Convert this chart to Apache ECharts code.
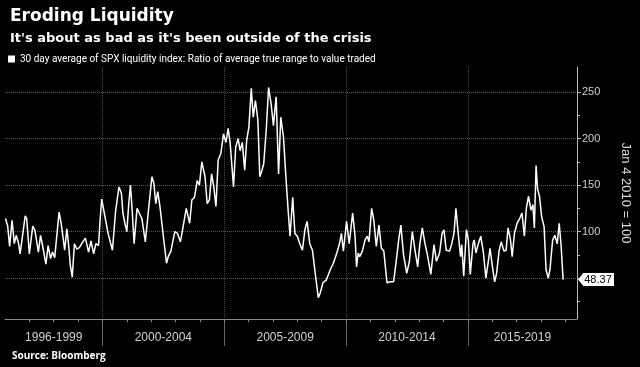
<!DOCTYPE html>
<html><head><meta charset="utf-8">
<script src="https://cdn.jsdelivr.net/npm/echarts@6/dist/echarts.min.js"></script>
<style>html,body{margin:0;padding:0;background:#000}#c{width:640px;height:367px}</style>
</head><body><div id="c"></div>
<script>
const titleText = 'Eroding Liquidity';
const subtitleText = "It's about as bad as it's been outside of the crisis";
const seriesName = '30 day average of SPX liquidity index: Ratio of average true range to value traded';
const sourceText = 'Source: Bloomberg';
const axisName = 'Jan 4 2010 = 100';
const periodLabels = ['1996-1999', '2000-2004', '2005-2009', '2010-2014', '2015-2019'];
const periodCenters = [1998, 2002.5, 2007.5, 2012.5, 2017.24];
const periodBounds = [2000, 2005, 2010, 2015];
const yearTicks = [1997,1998,1999,2000,2001,2002,2003,2004,2005,2006,2007,2008,2009,2010,2011,2012,2013,2014,2015,2016,2017,2018,2019];
const yLabelValues = [50, 100, 150, 200, 250];
const yMinorTicks = [25, 50, 75, 100, 125, 150, 175, 200, 225, 250];
const xMin = 1996, xMax = 2019.48, yMin = 6, yMax = 277;

const dates = [
1996.02,1996.11,1996.19,1996.29,1996.38,1996.46,1996.56,1996.62,1996.83,1996.89,
1997.00,1997.14,1997.23,1997.37,1997.46,1997.57,1997.68,1997.77,1997.87,1997.95,
1998.04,1998.22,1998.31,1998.45,1998.54,1998.62,1998.68,1998.76,1998.85,1998.95,
1999.06,1999.19,1999.30,1999.43,1999.53,1999.64,1999.73,1999.84,1999.91,1999.97,
2000.11,2000.24,2000.41,2000.54,2000.68,2000.78,2000.84,2000.92,2001.00,2001.08,
2001.15,2001.22,2001.30,2001.42,2001.51,2001.62,2001.76,2001.89,2002.03,2002.11,
2002.19,2002.27,2002.36,2002.50,2002.63,2002.70,2002.81,2002.97,2003.08,2003.20,
2003.31,2003.44,2003.58,2003.67,2003.78,2003.89,2003.98,2004.08,2004.21,2004.30,
2004.39,2004.48,2004.57,2004.66,2004.75,2004.86,2004.97,2005.07,2005.16,2005.24,
2005.38,2005.47,2005.57,2005.65,2005.74,2005.84,2005.92,2006.01,2006.11,2006.19,
2006.28,2006.38,2006.46,2006.55,2006.62,2006.73,2006.82,2006.92,2007.02,2007.13,
2007.23,2007.32,2007.43,2007.54,2007.63,2007.70,2007.81,2007.90,2008.00,2008.10,
2008.21,2008.31,2008.40,2008.51,2008.62,2008.75,2008.86,2008.94,2009.05,2009.19,
2009.35,2009.48,2009.62,2009.73,2009.81,2009.89,2010.02,2010.13,2010.27,2010.37,
2010.43,2010.50,2010.56,2010.67,2010.78,2010.87,2010.94,2011.05,2011.14,2011.24,
2011.35,2011.45,2011.55,2011.68,2011.82,2011.95,2012.05,2012.16,2012.25,2012.36,
2012.49,2012.60,2012.72,2012.83,2012.94,2013.03,2013.13,2013.24,2013.34,2013.48,
2013.61,2013.71,2013.84,2013.94,2014.02,2014.11,2014.25,2014.34,2014.43,2014.51,
2014.59,2014.70,2014.75,2014.83,2014.94,2015.02,2015.10,2015.21,2015.26,2015.33,
2015.42,2015.53,2015.64,2015.74,2015.83,2015.91,2016.01,2016.10,2016.18,2016.28,
2016.37,2016.48,2016.57,2016.65,2016.75,2016.82,2016.91,2017.02,2017.13,2017.22,
2017.32,2017.40,2017.49,2017.59,2017.67,2017.73,2017.80,2017.86,2017.94,2018.03,
2018.13,2018.21,2018.30,2018.37,2018.48,2018.57,2018.67,2018.75,2018.83,2018.91
];
const values = [
114,106,84,112,87,96,87,76,117,114,
76,106,101,78,96,81,65,85,71,78,
72,121,108,80,103,83,64,51,87,81,
83,89,93,78,90,76,87,85,115,135,
115,97,80,122,148,141,120,109,100,130,
150,123,87,125,120,114,89,123,159,152,
130,143,127,95,66,73,79,100,98,89,
105,125,109,134,137,155,150,175,159,130,
134,162,148,127,177,184,205,196,211,196,
148,191,200,187,196,166,198,212,254,223,
241,220,159,166,173,212,255,238,214,245,
162,223,202,155,120,95,137,98,95,87,
80,102,111,87,80,52,29,34,45,48,
59,66,77,87,98,79,111,87,120,95,
62,77,73,79,91,95,89,125,112,84,
107,82,79,45,46,46,66,91,107,75,
55,68,100,80,62,87,104,87,75,54,
86,68,77,98,102,80,79,87,98,125,
102,73,86,52,102,91,54,87,91,77,
86,95,77,50,66,82,62,46,55,79,
89,79,80,104,91,73,98,109,114,120,
95,125,138,123,129,104,171,146,138,116,
105,59,50,59,91,96,87,109,84,48.37
];
const lastValue = values[values.length - 1];

const seriesData = dates.map((d, i) => [d, values[i]]);
const condensed = "Roboto, 'Liberation Sans', sans-serif";
const heading = "'DejaVu Sans', sans-serif";

const chart = echarts.init(document.getElementById('c'), null, {renderer: 'canvas'});
chart.setOption({
  backgroundColor: '#000',
  animation: false,
  title: [
    {text: titleText, left: 5, top: 3, textStyle: {color: '#fff', fontSize: 17, fontWeight: 'bold', fontFamily: heading}},
    {text: subtitleText, left: 5, top: 27, textStyle: {color: '#fff', fontSize: 13, fontWeight: 'bold', fontFamily: heading}},
    {text: sourceText, left: 7, top: 346, textStyle: {color: '#fff', fontSize: 10, fontWeight: 'bold', fontFamily: 'Open Sans'}}
  ],
  legend: {
    left: 8, top: 54, padding: 0, icon: 'rect', itemWidth: 7, itemHeight: 7, itemGap: 5,
    textStyle: {color: '#fff', fontSize: 10, fontFamily: condensed},
    data: [seriesName]
  },
  grid: {left: 5, right: 56, top: 67, bottom: 48, containLabel: false},
  xAxis: [{
    type: 'value', min: xMin, max: xMax,
    axisLine: {show: true, lineStyle: {color: '#8a8a8a', width: 1}},
    axisTick: {show: true, customValues: periodBounds, length: 27, lineStyle: {color: '#666'}},
    axisLabel: {
      customValues: periodCenters, color: '#d0d0d0', fontSize: 12, margin: 13, fontFamily: "'Liberation Sans', sans-serif",
      formatter: v => periodLabels[periodCenters.findIndex(c => Math.abs(c - v) < 1e-6)] || ''
    },
    splitLine: {show: true, lineStyle: {color: '#4a4a4a', type: 'dotted'}}
  }, {
    type: 'value', min: xMin, max: xMax, position: 'bottom',
    axisLine: {show: false},
    axisTick: {show: true, customValues: yearTicks, length: 3, lineStyle: {color: '#8a8a8a'}},
    axisLabel: {show: false}, splitLine: {show: false}
  }],
  yAxis: [{
    type: 'value', position: 'right', min: yMin, max: yMax,
    axisLine: {show: true, lineStyle: {color: '#bbb'}},
    axisTick: {show: true, customValues: yLabelValues, length: 4, lineStyle: {color: '#bbb'}},
    axisLabel: {customValues: yLabelValues, color: '#d0d0d0', fontSize: 11, margin: 5, fontFamily: "'Liberation Sans', sans-serif"},
    splitLine: {show: true, lineStyle: {color: '#585858', type: 'dotted'}},
    name: axisName, nameLocation: 'middle', nameRotate: -90, nameGap: 42,
    nameTextStyle: {color: '#ddd', fontSize: 13, fontFamily: "'Liberation Sans', sans-serif"}
  }, {
    type: 'value', position: 'right', min: yMin, max: yMax,
    axisLine: {show: false},
    axisTick: {show: true, customValues: yMinorTicks, length: 3, lineStyle: {color: '#bbb'}},
    axisLabel: {show: false}, splitLine: {show: false}
  }],
  series: [{
    name: seriesName, type: 'line', xAxisIndex: 0, yAxisIndex: 0,
    data: seriesData, showSymbol: false, symbol: 'none', clip: false,
    lineStyle: {color: '#fff', width: 1.5}, itemStyle: {color: '#fff'},
    markPoint: {
      symbol: 'path://M0,6 L6,0 L40,0 L40,12 L6,12 Z',
      symbolSize: [36, 13], symbolOffset: [19, 0], silent: true,
      itemStyle: {color: '#fff'},
      label: {show: true, color: '#000', fontSize: 11, fontFamily: "'Liberation Sans', sans-serif", offset: [2, 0], formatter: () => lastValue.toFixed(2)},
      data: [{coord: [xMax, lastValue]}]
    }
  }]
});
</script></body></html>
